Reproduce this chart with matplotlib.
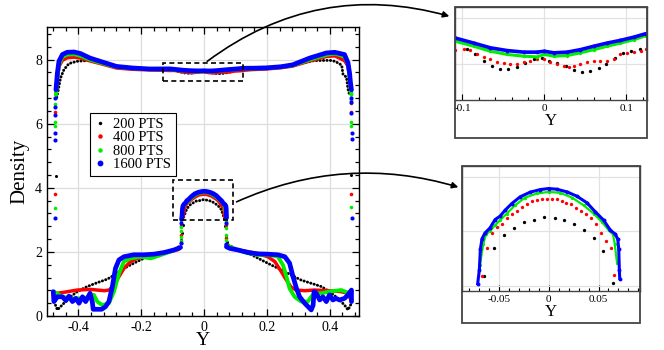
import numpy as np
import matplotlib
matplotlib.use("Agg")
import matplotlib.pyplot as plt
from matplotlib.patches import Rectangle, FancyArrowPatch
from matplotlib.lines import Line2D
from matplotlib.ticker import MultipleLocator

plt.rcParams["font.family"] = ["Liberation Serif", "DejaVu Serif"]
plt.rcParams["axes.unicode_minus"] = False

# ============================================================
# Data: position Y and density per run
# ============================================================

labels = ["200 PTS", "400 PTS", "800 PTS", "1600 PTS"]
colors = ["#000000", "#ff0000", "#00ee00", "#0000ff"]

# ---- 200 PTS (black)
black_top_pos = [-0.469, -0.464, -0.457, -0.446, -0.43, -0.404, -0.361, -0.319, -0.28, -0.23, -0.17, -0.12,
                 -0.0943, -0.0841, -0.074, -0.0638, -0.0545, -0.0443, -0.0337, -0.024, -0.013, -0.0028,
                 0.0061, 0.0154, 0.026, 0.0366, 0.0463, 0.0561, 0.0659, 0.0756, 0.0854, 0.0959, 0.1061, 0.1159,
                 0.14, 0.2, 0.28, 0.33, 0.35, 0.40, 0.416, 0.43, 0.438, 0.442, 0.453, 0.458, 0.463]
black_top_rho = [6.82, 7.06, 7.43, 7.69, 7.88, 7.95, 7.98, 7.90, 7.80, 7.73, 7.70, 7.68,
                 7.665, 7.641, 7.612, 7.59, 7.578, 7.578, 7.586, 7.604, 7.619, 7.626,
                 7.614, 7.604, 7.59, 7.571, 7.565, 7.568, 7.58, 7.60, 7.626, 7.648, 7.655, 7.667,
                 7.69, 7.74, 7.84, 7.93, 7.97, 7.98, 7.95, 7.88, 7.82, 7.55, 7.45, 7.08, 6.90]
black_left_pos = [-0.473, -0.467, -0.446, -0.425, -0.404, -0.372, -0.340, -0.308, -0.277, -0.245, -0.213,
                  -0.192, -0.149, -0.107, -0.086, -0.077]
black_left_rho = [0.34, 0.19, 0.40, 0.60, 0.76, 0.92, 1.04, 1.15, 1.33, 1.54, 1.70, 1.80, 1.96, 2.04, 2.11, 2.20]
black_cap_pos = [-0.065, -0.0549, -0.0448, -0.035, -0.0246, -0.0145, -0.0044, 0.0057, 0.0155, 0.0253, 0.035,
                 0.0451, 0.0549, 0.065]
black_cap_rho = [3.088, 3.349, 3.466, 3.53, 3.589, 3.601, 3.629, 3.622, 3.604, 3.57, 3.512, 3.438, 3.319, 3.024]
black_right_pos = [0.077, 0.108, 0.151, 0.182, 0.214, 0.246, 0.277, 0.309, 0.341, 0.373, 0.399, 0.426, 0.447,
                   0.458, 0.469]
black_right_rho = [2.22, 2.06, 1.91, 1.75, 1.59, 1.44, 1.28, 1.12, 1.02, 0.92, 0.76, 0.55, 0.34, 0.19, 0.40]
black_dot_pos = [-0.472, 0.469, -0.068, -0.070, -0.072, 0.068, 0.070, 0.072]
black_dot_rho = [4.38, 4.40, 2.85, 2.60, 2.38, 2.80, 2.50, 2.30]

# ---- 400 PTS (red)
red_top_pos = [-0.4715, -0.467, -0.462, -0.451, -0.436, -0.414, -0.393, -0.363, -0.331, -0.279, -0.227, -0.173,
               -0.13, -0.1085, -0.0984, -0.0902, -0.0821, -0.074, -0.0659, -0.0577, -0.0496, -0.0415, -0.0333,
               -0.0252, -0.0171, -0.0089, -0.0008, 0.0073, 0.0154, 0.0236, 0.0297, 0.0358, 0.0439, 0.052,
               0.0602, 0.0683, 0.0764, 0.0846, 0.0927, 0.1008, 0.1089, 0.1171, 0.1232,
               0.15, 0.198, 0.245, 0.282, 0.336, 0.389, 0.416, 0.447, 0.458, 0.463, 0.466, 0.469]
red_top_rho = [6.90, 7.43, 7.79, 7.98, 8.06, 8.08, 8.05, 7.96, 7.88, 7.74, 7.70, 7.68,
               7.67, 7.662, 7.665, 7.659, 7.645, 7.63, 7.619, 7.609, 7.601, 7.597, 7.60,
               7.607, 7.614, 7.622, 7.619, 7.607, 7.597, 7.59, 7.586, 7.59, 7.60, 7.609,
               7.612, 7.613, 7.614, 7.622, 7.641, 7.648, 7.652, 7.655, 7.667,
               7.69, 7.71, 7.75, 7.80, 7.96, 8.10, 8.12, 7.97, 7.80, 7.50, 7.20, 6.95]
red_left_pos = [-0.478, -0.474, -0.467, -0.446, -0.404, -0.361, -0.340, -0.318, -0.302, -0.287, -0.271, -0.255,
                -0.234, -0.213, -0.181, -0.139, -0.107, -0.080]
red_left_rho = [0.45, 0.60, 0.71, 0.74, 0.81, 0.83, 0.81, 0.79, 0.81, 0.97, 1.23, 1.49, 1.70, 1.80, 1.87,
                1.96, 2.01, 2.08]
red_cap_pos = [-0.067, -0.0626, -0.0572, -0.0519, -0.0471, -0.0421, -0.0374, -0.0323, -0.0269, -0.0219,
               -0.0168, -0.0118, -0.0067, -0.002, 0.003, 0.0081, 0.0128, 0.0175, 0.0226, 0.0276, 0.0327,
               0.0377, 0.0428, 0.0478, 0.0529, 0.0579, 0.063, 0.0653]
red_cap_rho = [3.088, 3.346, 3.481, 3.54, 3.57, 3.626, 3.656, 3.69, 3.724, 3.751, 3.776, 3.788, 3.794, 3.80,
               3.797, 3.794, 3.779, 3.764, 3.748, 3.718, 3.687, 3.656, 3.619, 3.564, 3.484, 3.411, 3.349, 3.10]
red_right_pos = [0.077, 0.108, 0.140, 0.172, 0.203, 0.225, 0.246, 0.262, 0.277, 0.293, 0.320, 0.351, 0.394,
                 0.436, 0.457, 0.465, 0.470]
red_right_rho = [2.14, 2.06, 2.01, 1.94, 1.85, 1.70, 1.38, 1.12, 0.90, 0.81, 0.79, 0.81, 0.79, 0.76, 0.71,
                 0.55, 0.45]
red_dot_pos = [-0.476, -0.476, 0.469, 0.469, 0.469, -0.0725, -0.0725, -0.0725, 0.0696, 0.0696, 0.0696]
red_dot_rho = [6.38, 3.81, 6.65, 6.38, 3.81, 2.80, 2.53, 2.27, 2.85, 2.43, 2.25]

# ---- 800 PTS (green)
green_top_pos = [-0.4715, -0.467, -0.462, -0.451, -0.436, -0.414, -0.393, -0.363, -0.331, -0.279, -0.227,
                 -0.173, -0.1085, -0.0862, -0.0659, -0.0455, -0.0252, -0.0089, 0.0, 0.0114, 0.0276, 0.0439,
                 0.0602, 0.0764, 0.0927, 0.1089, 0.1232,
                 0.16, 0.198, 0.245, 0.282, 0.336, 0.389, 0.416, 0.447, 0.458, 0.463, 0.466, 0.469]
green_top_rho = [6.90, 7.45, 7.85, 8.08, 8.16, 8.17, 8.12, 8.00, 7.91, 7.77, 7.73,
                 7.70, 7.699, 7.677, 7.655, 7.641, 7.633, 7.63, 7.641, 7.633, 7.636, 7.648,
                 7.662, 7.677, 7.691, 7.706, 7.723,
                 7.725, 7.735, 7.77, 7.82, 8.00, 8.15, 8.19, 8.10, 7.85, 7.50, 7.20, 6.90]
green_left_pos = [-0.478, -0.451, -0.425, -0.393, -0.367, -0.351, -0.340, -0.324, -0.303, -0.287, -0.271,
                  -0.255, -0.234, -0.202, -0.170, -0.139, -0.107, -0.080]
green_left_rho = [0.76, 0.60, 0.55, 0.55, 0.58, 0.66, 0.45, 0.34, 0.40, 0.76, 1.33, 1.70, 1.80, 1.85, 1.80,
                  1.90, 2.01, 2.11]
green_cap_pos = [-0.0694, -0.066, -0.0633, -0.0593, -0.0542, -0.0492, -0.0424, -0.034, -0.0239, -0.0121, 0.0,
                 0.0114, 0.0232, 0.035, 0.0451, 0.0535, 0.0603, 0.0646, 0.0663, 0.0687]
green_cap_rho = [3.193, 3.386, 3.472, 3.503, 3.555, 3.601, 3.662, 3.739, 3.81, 3.847, 3.862, 3.853, 3.81,
                 3.739, 3.662, 3.586, 3.509, 3.472, 3.386, 3.208]
green_right_pos = [0.071, 0.098, 0.140, 0.172, 0.208, 0.235, 0.251, 0.262, 0.272, 0.288, 0.309, 0.330, 0.341,
                   0.351, 0.373, 0.399, 0.436, 0.463, 0.470]
green_right_rho = [2.22, 2.09, 1.96, 1.91, 1.91, 1.85, 1.59, 1.23, 0.86, 0.60, 0.45, 0.45, 0.60, 0.71, 0.71,
                   0.76, 0.81, 0.71, 0.50]
green_dot_pos = [-0.476, -0.476, -0.476, -0.476, 0.469, 0.469, 0.469, 0.469,
                 -0.0725, -0.0725, -0.0725, -0.0725, -0.0725, 0.0696, 0.0696, 0.0696, 0.0696]
green_dot_rho = [6.62, 6.05, 5.92, 3.38, 6.75, 6.07, 5.94, 3.40,
                 2.99, 2.79, 2.64, 2.48, 2.34, 2.95, 2.74, 2.53, 2.375]

# ---- 1600 PTS (blue)
blue_top_pos = [-0.4715, -0.467, -0.462, -0.451, -0.436, -0.414, -0.393, -0.363, -0.331, -0.279, -0.227,
                -0.173, -0.1085, -0.0862, -0.0659, -0.0455, -0.0252, -0.0089, 0.0, 0.0114, 0.0276, 0.0439,
                0.0602, 0.0764, 0.0927, 0.1089, 0.1232,
                0.16, 0.198, 0.245, 0.282, 0.336, 0.389, 0.416, 0.447, 0.458, 0.463, 0.466, 0.469]
blue_top_rho = [7.06, 7.58, 7.95, 8.16, 8.23, 8.24, 8.19, 8.05, 7.95, 7.79, 7.74,
                7.71, 7.713, 7.691, 7.67, 7.658, 7.651, 7.651, 7.655, 7.648, 7.651, 7.662,
                7.677, 7.691, 7.703, 7.717, 7.732,
                7.735, 7.745, 7.78, 7.84, 8.05, 8.21, 8.23, 8.16, 7.90, 7.58, 7.27, 7.06]
blue_left_pos = [-0.480, -0.478, -0.467, -0.451, -0.440, -0.430, -0.419, -0.408, -0.398, -0.387, -0.377,
                 -0.363, -0.356, -0.353, -0.326, -0.314, -0.303, -0.292, -0.282, -0.271, -0.255, -0.224,
                 -0.192, -0.160, -0.128, -0.096, -0.075]
blue_left_rho = [0.76, 0.45, 0.60, 0.60, 0.48, 0.62, 0.45, 0.55, 0.40, 0.60, 0.45, 0.71, 0.45, 0.21, 0.21,
                 0.29, 0.45, 0.92, 1.49, 1.75, 1.85, 1.91, 1.91, 1.93, 1.98, 2.06, 2.14]
blue_cap_pos = [-0.0717, -0.070, -0.069, -0.0673, -0.0643, -0.0593, -0.0542, -0.0492, -0.0441, -0.0374,
                -0.029, -0.0189, -0.0088, 0.0, 0.0081, 0.0182, 0.0283, 0.0384, 0.0468, 0.0552, 0.062, 0.067,
                0.0694, 0.0704, 0.071, 0.0714]
blue_cap_rho = [3.018, 3.147, 3.334, 3.432, 3.484, 3.53, 3.607, 3.638, 3.693, 3.754, 3.816, 3.859, 3.883,
                3.893, 3.886, 3.862, 3.822, 3.761, 3.678, 3.601, 3.509, 3.472, 3.426, 3.334, 3.141, 3.064]
blue_right_pos = [0.071, 0.082, 0.108, 0.140, 0.172, 0.203, 0.235, 0.257, 0.272, 0.283, 0.294, 0.304, 0.320,
                  0.341, 0.347, 0.350, 0.357, 0.368, 0.378, 0.389, 0.399, 0.410, 0.420, 0.431, 0.447, 0.458,
                  0.469, 0.469]
blue_right_rho = [2.16, 2.11, 2.06, 1.98, 1.94, 1.93, 1.91, 1.85, 1.65, 1.23, 0.86, 0.60, 0.40, 0.19, 0.34,
                  0.76, 0.71, 0.50, 0.60, 0.45, 0.66, 0.50, 0.55, 0.50, 0.55, 0.66, 0.81, 0.45]
blue_dot_pos = [-0.476, -0.476, -0.476, -0.476, -0.476, -0.476, 0.469, 0.469, 0.469, 0.470, 0.470, 0.470,
                -0.0725, -0.0725, 0.0696, 0.0696]
blue_dot_rho = [6.80, 6.52, 6.26, 5.70, 5.49, 3.05, 6.80, 6.67, 6.33, 5.71, 5.52, 3.07,
                2.90, 2.27, 2.90, 2.25]

# zoom windows (data coords)
box_top = (-0.13, 7.34, 0.254, 0.56)
box_cap = (-0.10, 3.00, 0.193, 1.25)

series = [
    (black_top_pos, black_top_rho, [(black_left_pos, black_left_rho), (black_cap_pos, black_cap_rho),
                                    (black_right_pos, black_right_rho)], black_dot_pos, black_dot_rho),
    (red_top_pos, red_top_rho, [(red_left_pos, red_left_rho), (red_cap_pos, red_cap_rho),
                                (red_right_pos, red_right_rho)], red_dot_pos, red_dot_rho),
    (green_top_pos, green_top_rho, [(green_left_pos, green_left_rho), (green_cap_pos, green_cap_rho),
                                    (green_right_pos, green_right_rho)], green_dot_pos, green_dot_rho),
    (blue_top_pos, blue_top_rho, [(blue_left_pos, blue_left_rho), (blue_cap_pos, blue_cap_rho),
                                  (blue_right_pos, blue_right_rho)], blue_dot_pos, blue_dot_rho),
]
line_w = [2.1, 2.5, 2.8, 3.4]
dot_ms = [2.2, 2.6, 2.6, 3.0]

W, H = 664, 350
fig = plt.figure(figsize=(W / 100, H / 100), dpi=100)


def fx(px):
    return px / W


def fy(py):
    return 1 - py / H


# =========================
# Main panel
# =========================
ax = fig.add_axes([fx(47), fy(316), (359 - 47) / W, (316 - 27) / H])

for i, (tp, tr, pieces, dp, dr) in enumerate(series):
    c = colors[i]
    z = 3 + i
    if i == 0:
        kw = dict(lw=line_w[i], ls=(0, (0.1, 1.1)), dash_capstyle="round")
    else:
        kw = dict(lw=line_w[i], solid_capstyle="round", solid_joinstyle="round")
    ax.plot(tp, tr, color=c, zorder=z, **kw)
    for pp, pr in pieces:
        ax.plot(pp, pr, color=c, zorder=z, **kw)
    ax.plot(dp, dr, "o", color=c, ms=dot_ms[i], mec="none", zorder=z)

for b in (box_top, box_cap):
    ax.add_patch(Rectangle((b[0], b[1]), b[2], b[3], fill=False, ec="black", lw=1.2,
                           ls=(0, (3, 2)), zorder=10))

ax.set_xlim(-0.5, 0.493)
ax.set_ylim(0, 9.02)
ax.xaxis.set_major_locator(MultipleLocator(0.2))
ax.xaxis.set_minor_locator(MultipleLocator(0.04))
ax.yaxis.set_major_locator(MultipleLocator(2))
ax.yaxis.set_minor_locator(MultipleLocator(0.4))
ax.set_xticks([-0.4, -0.2, 0, 0.2, 0.4])
ax.set_xticklabels(["-0.4", "-0.2", "0", "0.2", "0.4"])
ax.tick_params(which="both", direction="in", top=True, right=True, labelsize=10, width=0.9)
ax.tick_params(which="major", length=5)
ax.tick_params(which="minor", length=3)
ax.grid(which="major", color="#dddddd", lw=0.9, zorder=0)
ax.set_axisbelow(True)
for s in ax.spines.values():
    s.set_linewidth(1.0)
ax.set_xlabel("Y", fontsize=14, labelpad=-1)
ax.set_ylabel("Density", fontsize=15, labelpad=4)

handles = [Line2D([], [], ls="none", marker="o", color=colors[i], mec="none", ms=[2.5, 3.2, 3.2, 4.2][i])
           for i in range(4)]
leg = ax.legend(handles, labels, loc="upper left", bbox_to_anchor=(0.138, 0.702), fontsize=10.5,
                frameon=True, fancybox=False, edgecolor="black", framealpha=1, borderpad=0.3,
                handlelength=0.7, handletextpad=0.6, labelspacing=0.02, borderaxespad=0)
leg.get_frame().set_linewidth(0.8)
leg.set_zorder(20)


def style_inset(axi, xmaj, xmin, yticks):
    axi.xaxis.set_major_locator(MultipleLocator(xmaj))
    axi.xaxis.set_minor_locator(MultipleLocator(xmin))
    axi.set_yticks(yticks)
    axi.set_yticklabels([])
    axi.tick_params(axis="y", length=0)
    axi.tick_params(axis="x", which="both", direction="in", labelsize=8, width=0.8, pad=3)
    axi.tick_params(axis="x", which="major", length=4)
    axi.tick_params(axis="x", which="minor", length=2.5)
    axi.grid(which="major", color="#e2e2e2", lw=0.9)
    axi.set_axisbelow(True)
    for s in axi.spines.values():
        s.set_color("#444444")
        s.set_linewidth(1.0)
    axi.set_xlabel("Y", fontsize=12, labelpad=0)


inset_ms = [2.4, 2.4, 2.4, 2.8]

# =========================
# Inset 1: top plateau
# =========================
ax1 = fig.add_axes([fx(455), fy(100), (647 - 455) / W, (100 - 7) / H])
for i, (tp, tr, pieces, dp, dr) in enumerate(series):
    if i >= 2:
        ax1.plot(tp, tr, color=colors[i], lw=[0, 0, 2.2, 2.6][i], zorder=3 + i)
    ax1.plot(tp, tr, "o", color=colors[i], ms=inset_ms[i], mec="none", zorder=3 + i)
ax1.set_xlim(-0.109, 0.125)
ax1.set_ylim(7.44, 7.85)
style_inset(ax1, 0.1, 0.02, [7.6, 7.8])
ax1.set_xticks([-0.1, 0, 0.1])
ax1.set_xticklabels(["-0.1", "0", "0.1"])
fig.add_artist(Rectangle((fx(455), fy(138)), (647 - 455) / W, (138 - 7) / H, transform=fig.transFigure,
                         fill=False, ec="#444444", lw=1.3))

# =========================
# Inset 2: central cap
# =========================
ax2 = fig.add_axes([fx(461.7), fy(291), (640 - 461.7) / W, (291 - 166) / H])
for i, (tp, tr, pieces, dp, dr) in enumerate(series):
    cp, cr = pieces[1]
    if i >= 2:
        ax2.plot(cp, cr, color=colors[i], lw=[0, 0, 1.6, 2.2][i], zorder=3 + i)
    ax2.plot(cp, cr, "o", color=colors[i], ms=inset_ms[i], mec="none", zorder=3 + i)
ax2.set_xlim(-0.0878, 0.0918)
ax2.set_ylim(2.95, 4.1)
style_inset(ax2, 0.05, 0.01, [3.0, 3.5, 4.0])
ax2.set_xticks([-0.05, 0, 0.05])
ax2.set_xticklabels(["-0.05", "0", "0.05"])
fig.add_artist(Rectangle((fx(461.7), fy(323)), (640 - 461.7) / W, (323 - 166) / H,
                         transform=fig.transFigure, fill=False, ec="#444444", lw=1.3))

# =========================
# Arrows
# =========================
fig.add_artist(FancyArrowPatch((fx(205), fy(63)), (fx(452), fy(17)), transform=fig.transFigure,
                               connectionstyle="arc3,rad=-0.25", arrowstyle="-|>", mutation_scale=9,
                               lw=1.2, color="black"))
fig.add_artist(FancyArrowPatch((fx(234), fy(203)), (fx(461), fy(188)), transform=fig.transFigure,
                               connectionstyle="arc3,rad=-0.19", arrowstyle="-|>", mutation_scale=9,
                               lw=1.2, color="black"))

fig.savefig("out.png", dpi=100)
